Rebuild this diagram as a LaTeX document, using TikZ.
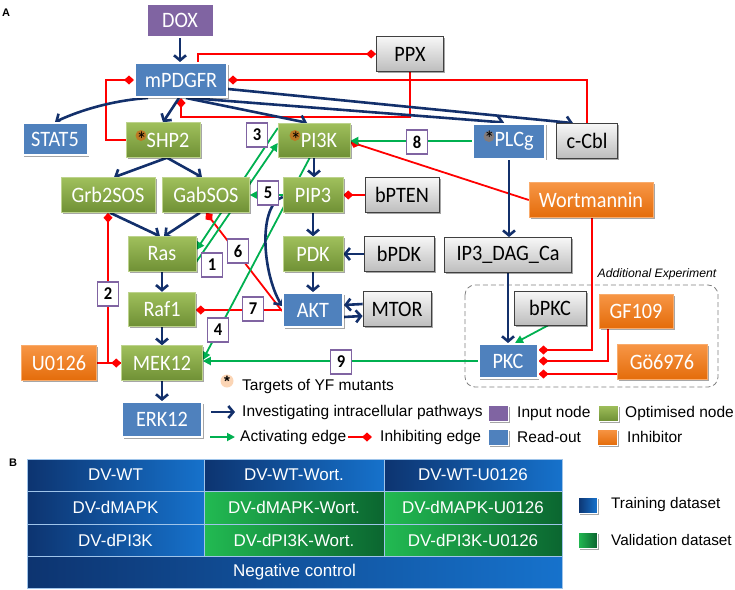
\documentclass[tikz,border=0pt]{standalone}
\usepackage{fontspec}
\setmainfont{Liberation Sans}
\newfontfamily\carl[FakeStretch=0.92]{Carlito}
\usetikzlibrary{arrows.meta,shadows,backgrounds,calc}
\definecolor{gTop}{HTML}{A0C05C}
\definecolor{gBot}{HTML}{6F9035}
\definecolor{bFill}{HTML}{4F81BD}
\definecolor{pFill}{HTML}{8064A2}
\definecolor{oTop}{HTML}{F79646}
\definecolor{oBot}{HTML}{E46C0A}
\definecolor{yTop}{HTML}{F7F7F7}
\definecolor{yBot}{HTML}{BDBDBD}
\definecolor{yBorder}{HTML}{404040}
\definecolor{navy}{HTML}{13306B}
\definecolor{grn}{HTML}{00B050}
\definecolor{astOr}{HTML}{C5701D}
\definecolor{astGr}{HTML}{8C7A70}
\definecolor{astLeg}{HTML}{FBD5B5}
\definecolor{tL}{HTML}{0D3470}
\definecolor{tR}{HTML}{1672CC}
\definecolor{vL}{HTML}{22BA52}
\definecolor{vR}{HTML}{0B6630}
\definecolor{cellLine}{HTML}{9FC4EA}
\begin{document}
\begin{tikzpicture}[x=1pt,y=-1pt,
  nd/.style={rectangle, inner sep=0pt, minimum height=35pt, font=\carl\fontsize{22}{22}\selectfont},
  shd/.style={drop shadow={shadow xshift=1.5pt, shadow yshift=-1.5pt, opacity=0.35, fill=black}},
  gnode/.style={nd, top color=gTop, bottom color=gBot, draw=gTop!70!white, line width=0.5pt, text=white, shd},
  bnode/.style={nd, fill=bFill, draw=white, line width=2pt, text=white, shd},
  pnode/.style={nd, fill=pFill, draw=white, line width=2pt, text=white, shd},
  onode/.style={nd, top color=oTop, bottom color=oBot, draw=oTop!80!white, line width=0.5pt, text=white, shd},
  ynode/.style={nd, top color=yTop, bottom color=yBot, draw=yBorder, line width=0.8pt, text=black, shd},
  ast/.style 2 args={path picture={\fill[#1, opacity=0.85] ($(path picture bounding box.center)+(#2,4.5pt)$) circle (5.5pt);}},
  lbl/.style={rectangle, draw=pFill, fill=white, line width=1.5pt, minimum width=21pt, minimum height=24pt, inner sep=0pt, font=\carl\bfseries\fontsize{18}{18}\selectfont},
  pw/.style={draw=navy, line width=2.6pt, -{Straight Barb[length=5pt,width=12pt]}},
  act/.style={draw=grn, line width=1.8pt, -{Triangle[length=8pt,width=8pt]}},
  inh/.style={draw=red, line width=1.8pt, -{Diamond[length=10pt,width=9pt]}},
  legtxt/.style={anchor=west, inner sep=0pt, font=\fontsize{15.5}{15.5}\selectfont},
  lsq/.style={rectangle, inner sep=0pt, minimum width=20pt, minimum height=16pt, draw=white, line width=1pt, shd},
  bcell/.style={rectangle, inner sep=0pt, text=white, font=\fontsize{17}{17}\selectfont, draw=cellLine, line width=0.8pt},
  tcell/.style={bcell, left color=tL, right color=tR},
  vcell/.style={bcell, left color=vL, right color=vR}
]
\path[use as bounding box] (0,0) rectangle (735,589);

% panel labels
\node[font=\bfseries\fontsize{11}{11}\selectfont] (labA) at (6,13) {A};
\node[font=\bfseries\fontsize{11}{11}\selectfont] (labB) at (13,463) {B};

% nodes
\node[pnode, minimum width=67pt, minimum height=33pt] (DOX) at (180,20) {DOX};
\node[bnode, minimum width=92pt, minimum height=34pt] (mPDGFR) at (181,80) {mPDGFR};
\node[ynode, minimum width=67pt] (PPX) at (410,54) {PPX};
\node[bnode, minimum width=65pt, minimum height=32pt] (STAT5) at (55,139) {STAT5};
\node[gnode, minimum width=74pt, ast={astOr}{-22pt}] (SHP2) at (163,140) {{\color{black}*}SHP2};
\node[gnode, minimum width=72pt, minimum height=34pt, ast={astOr}{-19pt}] (PI3K) at (314,140) {{\color{black}*}PI3K};
\node[bnode, minimum width=72pt, ast={astGr}{-20pt}] (PLCg) at (509,141) {{\color{black}*}PLCg};
\node[ynode, minimum width=61pt] (cCbl) at (587,141) {c-Cbl};
\node[gnode, minimum width=94pt] (Grb2SOS) at (108,195) {Grb2SOS};
\node[gnode, minimum width=87pt] (GabSOS) at (206,195) {GabSOS};
\node[gnode, minimum width=60pt] (PIP3) at (313,195) {PIP3};
\node[ynode, minimum width=74pt] (bPTEN) at (402,195) {bPTEN};
\node[onode, minimum width=124pt] (Wort) at (591,200) {Wortmannin};
\node[gnode, minimum width=68pt] (Ras) at (162,254) {Ras};
\node[gnode, minimum width=60pt] (PDK) at (313,254) {PDK};
\node[ynode, minimum width=70pt] (bPDK) at (399,254) {bPDK};
\node[ynode, minimum width=127pt] (IP3) at (508,255) {IP3\_DAG\_Ca};
\node[gnode, minimum width=67pt, minimum height=34pt] (Raf1) at (162,309) {Raf1};
\node[bnode, minimum width=60pt, minimum height=34pt] (AKT) at (313,310) {AKT};
\node[ynode, minimum width=68pt] (MTOR) at (397,309) {MTOR};
\node[ynode, minimum width=72pt, minimum height=34pt] (bPKC) at (550,308) {bPKC};
\node[onode, minimum width=74pt, minimum height=34pt] (GF109) at (636,311) {GF109};
\node[bnode, minimum width=59pt, minimum height=34pt] (PKC) at (508,361) {PKC};
\node[onode, minimum width=90pt] (Go) at (662,362) {Gö6976};
\node[onode, minimum width=75pt] (U0126) at (59,363) {U0126};
\node[gnode, minimum width=81pt] (MEK12) at (162,363) {MEK12};
\node[bnode, minimum width=80pt] (ERK12) at (162,419.5) {ERK12};

\node[font=\itshape\fontsize{12.2}{12.2}\selectfont, inner sep=0pt] (addexp) at (657,274) {Additional Experiment};

% edge labels
\node[lbl] (L1) at (212,265) {1};
\node[lbl] (L2) at (108,294) {2};
\node[lbl] (L3) at (257,135) {3};
\node[lbl] (L4) at (218,330) {4};
\node[lbl] (L5) at (268,193) {5};
\node[lbl] (L6) at (238,251) {6};
\node[lbl] (L7) at (253,309) {7};
\node[lbl] (L8) at (417,142) {8};
\node[lbl] (L9) at (341,362) {9};

\begin{pgfonlayer}{background}
\draw[gray, line width=0.8pt, dash pattern=on 5pt off 3pt, rounded corners=10pt] (465,285) rectangle (718,387);
% inhibiting
\draw[inh] ([xshift=17pt]mPDGFR.north) |- (PPX.west);
\draw[inh] (PPX.south) |- (181,117) -- (mPDGFR.south);
\draw[inh] (cCbl.north) |- (mPDGFR.east);
\draw[inh] (SHP2.west) -- (106,140) |- (mPDGFR.west);
\draw[inh] (Wort.west) -- ([yshift=-2pt]PI3K.east);
\draw[inh] (bPTEN.west) -- (PIP3.east);
\draw[inh] (MEK12.west) -| (Grb2SOS.south);
\draw[inh] (U0126.east) -- (MEK12.west);
\draw[inh] ([yshift=-1pt]AKT.west) -- (GabSOS.south);
\draw[inh] (AKT.west) -- (AKT.west -| Raf1.east);
\draw[inh] ([xshift=1pt]Wort.south) |- ([yshift=11pt]PKC.east);
\draw[inh] ([xshift=-28pt]GF109.south) |- (PKC.east);
\draw[inh] ([yshift=-12pt]Go.west) -- ([yshift=-12pt]Go.west -| PKC.east);
% activating
\draw[act] (PLCg.west) -- (PLCg.west -| PI3K.east);
\draw[act] ([yshift=12pt]PI3K.west) -- ([yshift=4pt]Ras.east);
\draw[act] ([yshift=-8pt]Ras.east) -- ([yshift=-3pt]PI3K.west);
\draw[act] ([xshift=-4pt]PI3K.south) -- ([yshift=3pt]MEK12.east);
\draw[act] (PIP3.west) -- (GabSOS.east);
\draw[act] ([xshift=-2pt]bPKC.south) -- ([xshift=7pt]PKC.north);
\draw[act] (PKC.west) -- (PKC.west -| MEK12.east);
% pathways
\draw[pw] (DOX.south) -- (DOX.south |- mPDGFR.north);
\draw[pw] ([xshift=-33pt]mPDGFR.south) .. controls (118,100) and (85,108) .. (STAT5.north);
\draw[pw] ([xshift=-2pt]mPDGFR.south) -- (SHP2.north);
\draw[pw] ([xshift=5pt]mPDGFR.south) -- ([xshift=-7pt]PI3K.north);
\draw[pw] ([xshift=9pt]mPDGFR.south) -- ([xshift=-5pt]PLCg.north);
\draw[pw] ([yshift=-9pt]mPDGFR.east) -- ([xshift=-14pt]cCbl.north);
\draw[pw] ([xshift=4pt]SHP2.south) -- ([xshift=6pt]Grb2SOS.north);
\draw[pw] ([xshift=4pt]SHP2.south) -- ([xshift=-4pt]GabSOS.north);
\draw[pw] ([xshift=2pt]Grb2SOS.south) -- ([xshift=-2pt]Ras.north);
\draw[pw] ([xshift=-6pt]GabSOS.south) -- ([xshift=2pt]Ras.north);
\draw[pw] (Ras.south) -- (Raf1.north);
\draw[pw] (Raf1.south) -- (MEK12.north);
\draw[pw] (MEK12.south) -- (ERK12.north);
\draw[pw] (PI3K.south) -- (PI3K.south |- PIP3.north);
\draw[pw] (PIP3.south) -- (PDK.north);
\draw[pw] (PDK.south) -- (AKT.north);
\draw[pw] (bPDK.west) -- (PDK.east);
\draw[pw] ([yshift=5pt]MTOR.west) -- ([yshift=5pt]AKT.east);
\draw[pw] ([yshift=-7pt]AKT.east) -- ([yshift=-7pt]MTOR.west);
\draw[pw] ([yshift=-2pt]PIP3.west) .. controls (258,205) and (262,272) .. ([yshift=4pt]AKT.west);
\draw[pw] (PLCg.south) -- (PLCg.south |- IP3.north);
\draw[pw] (IP3.south) -- (IP3.south |- PKC.north);
\end{pgfonlayer}

% legend A
\node[circle, fill=astLeg, minimum size=13pt, inner sep=0pt, font=\bfseries\fontsize{15}{15}\selectfont] (legAst) at (227,381) {*};
\node[legtxt] (tYF) at (242,386) {Targets of YF mutants};
\coordinate (la1) at (211,412); \coordinate (la2) at (235,412);
\draw[pw] (la1) -- (la2);
\node[legtxt] (tInv) at (242,412) {Investigating intracellular pathways};
\node[lsq, fill=pFill] (sqIn) at (498.5,413) {};
\node[legtxt] (tIn) at (517,413) {Input node};
\node[lsq, top color=gTop, bottom color=gBot] (sqOpt) at (608,413) {};
\node[legtxt] (tOpt) at (625,413) {Optimised node};
\coordinate (lg1) at (210,437); \coordinate (lg2) at (235,437);
\draw[act] (lg1) -- (lg2);
\node[legtxt] (tAct) at (240,437) {Activating edge};
\coordinate (lr1) at (348,437); \coordinate (lr2) at (372,437);
\draw[inh] (lr1) -- (lr2);
\node[legtxt] (tInh) at (380,437) {Inhibiting edge};
\node[lsq, fill=bFill] (sqRO) at (498.5,437) {};
\node[legtxt] (tRO) at (517,437) {Read-out};
\node[lsq, top color=oTop, bottom color=oBot] (sqInhib) at (607.5,437) {};
\node[legtxt] (tInhib) at (627,437) {Inhibitor};

% panel B table
\node[tcell, minimum width=177pt, minimum height=32pt] (c11) at (115.5,475) {DV-WT};
\node[tcell, minimum width=180pt, minimum height=32pt] (c12) at (294,475) {DV-WT-Wort.};
\node[tcell, minimum width=178pt, minimum height=32pt] (c13) at (473,475) {DV-WT-U0126};
\node[tcell, minimum width=177pt, minimum height=33pt] (c21) at (115.5,507.5) {DV-dMAPK};
\node[vcell, minimum width=180pt, minimum height=33pt] (c22) at (294,507.5) {DV-dMAPK-Wort.};
\node[vcell, minimum width=178pt, minimum height=33pt] (c23) at (473,507.5) {DV-dMAPK-U0126};
\node[tcell, minimum width=177pt, minimum height=32pt] (c31) at (115.5,540) {DV-dPI3K};
\node[vcell, minimum width=180pt, minimum height=32pt] (c32) at (294,540) {DV-dPI3K-Wort.};
\node[vcell, minimum width=178pt, minimum height=32pt] (c33) at (473,540) {DV-dPI3K-U0126};
\node[tcell, minimum width=535pt, minimum height=32pt] (c41) at (294.5,572) {Negative control};

% legend B
\node[lsq, left color=tL, right color=tR, minimum width=19pt] (sqTr) at (587.5,505.5) {};
\node[legtxt, font=\fontsize{15.3}{15.3}\selectfont] (tTr) at (611,505) {Training dataset};
\node[lsq, left color=vL, right color=vR, minimum width=19pt] (sqVa) at (587.5,540.5) {};
\node[legtxt, font=\fontsize{15.3}{15.3}\selectfont] (tVa) at (611,540) {Validation dataset};
\end{tikzpicture}
\end{document}
